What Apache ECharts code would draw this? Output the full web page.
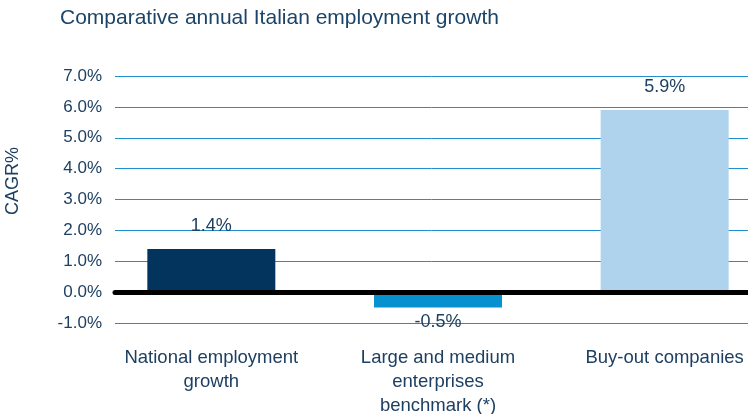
<!DOCTYPE html>
<html>
<head>
<meta charset="utf-8">
<script src="https://cdn.jsdelivr.net/npm/echarts@6/dist/echarts.min.js"></script>
<style>
  html, body { margin: 0; padding: 0; background: #ffffff; }
  #chart { width: 748px; height: 414px; }
</style>
</head>
<body>
<div id="chart"></div>
<script>
// Chart data
const categories = [
  'National employment\ngrowth',
  'Large and medium\nenterprises\nbenchmark (*)',
  'Buy-out companies'
];
const cagrValues = [1.4, -0.5, 5.9];
const barColors = ['#02345d', '#0792cf', '#afd3ec'];
const yTicks = { min: -1, max: 7, step: 1 };

const FONT = '"Liberation Sans", Arial, Helvetica, sans-serif';
const TEXT = '#1d3f61';

const chart = echarts.init(document.getElementById('chart'), null, { renderer: 'canvas' });

const barData = cagrValues.map((v, i) => ({
  value: v,
  itemStyle: { color: barColors[i] },
  label: v >= 0
    ? { position: 'top', distance: 14 }
    : { position: 'bottom', distance: 5 }
}));

chart.setOption({
  animation: false,
  backgroundColor: '#ffffff',
  title: {
    text: 'Comparative annual Italian employment growth',
    left: 55,
    top: 3,
    textStyle: { fontFamily: FONT, fontSize: 21, fontWeight: 'normal', color: '#1b4469' }
  },
  graphic: [
    {
      type: 'text',
      x: 13, y: 181,
      rotation: Math.PI / 2,
      style: {
        text: 'CAGR%',
        font: '18px ' + FONT,
        fill: TEXT,
        textAlign: 'center',
        textVerticalAlign: 'middle'
      }
    }
  ],
  grid: [
    // frame carrying the value scale, gridlines and the zero line
    { left: 115, right: 0, top: 76, bottom: 91, outerBoundsMode: 'none', containLabel: false },
    // frame carrying the bars and the category labels (runs past the right edge)
    { left: 98, width: 680, top: 76, bottom: 91, outerBoundsMode: 'none', containLabel: false }
  ],
  xAxis: [
    {
      gridIndex: 0, type: 'value', min: 0, max: 1,
      z: 10,
      axisLine: { show: true, onZero: true, lineStyle: { color: '#000000', width: 5 } },
      axisTick: { show: false }, axisLabel: { show: false }, splitLine: { show: false }
    },
    {
      gridIndex: 1, type: 'category', data: categories,
      axisLine: { show: false, onZero: false },
      axisTick: { show: false },
      axisLabel: {
        interval: 0, hideOverlap: false,
        margin: 23, fontFamily: FONT, fontSize: 18.5, lineHeight: 24, color: TEXT, align: 'center'
      }
    }
  ],
  yAxis: [
    {
      gridIndex: 0, type: 'value',
      min: yTicks.min, max: yTicks.max, interval: yTicks.step,
      axisLine: { show: false }, axisTick: { show: false },
      axisLabel: {
        margin: 13, fontFamily: FONT, fontSize: 17, color: TEXT,
        formatter: v => v.toFixed(1) + '%'
      },
      splitLine: { show: true, lineStyle: { color: '#1f8fcf', width: 1 } }
    },
    {
      gridIndex: 1, type: 'value',
      min: yTicks.min, max: yTicks.max, interval: yTicks.step,
      show: false, splitLine: { show: false }
    }
  ],
  series: [
    {
      type: 'bar',
      xAxisIndex: 1, yAxisIndex: 1,
      barWidth: 128,
      data: barData,
      label: {
        show: true, fontFamily: FONT, fontSize: 18, color: TEXT,
        formatter: p => p.value.toFixed(1) + '%'
      }
    }
  ]
});
</script>
</body>
</html>
